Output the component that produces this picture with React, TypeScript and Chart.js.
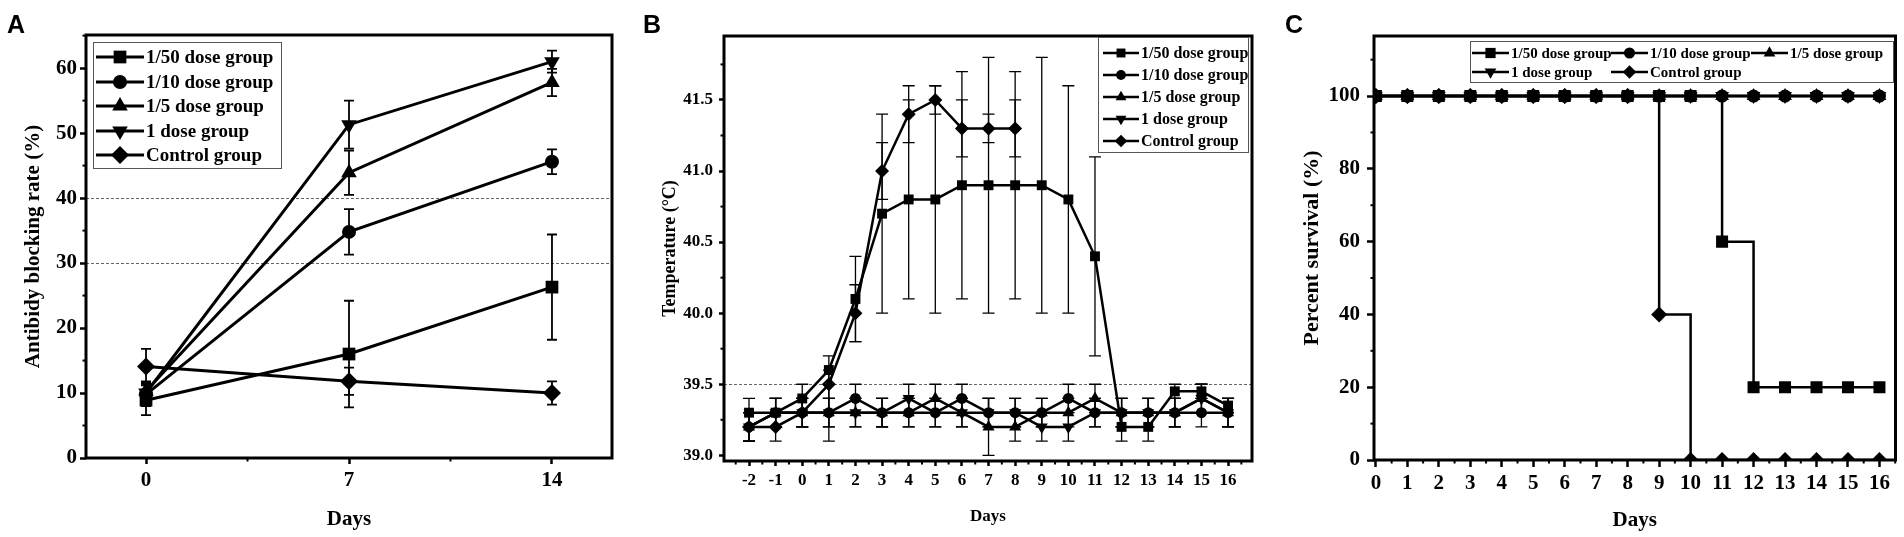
import { useEffect, useRef } from 'react'
import { Chart, registerables } from 'chart.js'

Chart.register(...registerables)

const SERIF = '"Liberation Serif", "Times New Roman", serif'
const SANS = '"Liberation Sans", Arial, sans-serif'

const groupLabels = ['1/50 dose group', '1/10 dose group', '1/5 dose group', '1 dose group', 'Control group']
const groupMarkers = ['rect', 'circle', 'triangle', 'triangleDown', 'rectRot']

// ---- panel A: antibody blocking rate
const daysA = [0, 7, 14]
const ticksAX = [0, 7, 14]
const ticksAY = [0, 10, 20, 30, 40, 50, 60]
const refLinesA = [30, 40]
const a150 = [8.9, 16.0, 26.3]
const a150Err = [2.3, 8.2, 8.1]
const a110 = [9.8, 34.8, 45.6]
const a110Err = [1.8, 3.5, 1.9]
const a15 = [10.3, 43.9, 57.8]
const a15Err = [1.5, 3.4, 2.1]
const a1 = [10.0, 51.3, 61.0]
const a1Err = [1.5, 3.7, 1.7]
const aCtrl = [14.1, 11.8, 10.0]
const aCtrlErr = [2.7, 2.1, 1.8]

// ---- panel B: temperature
const daysB = [-2, -1, 0, 1, 2, 3, 4, 5, 6, 7, 8, 9, 10, 11, 12, 13, 14, 15, 16]
const ticksBX = [-2, -1, 0, 1, 2, 3, 4, 5, 6, 7, 8, 9, 10, 11, 12, 13, 14, 15, 16]
const ticksBY = [39.0, 39.5, 40.0, 40.5, 41.0, 41.5]
const refLinesB = [39.5]
const b150 = [39.3, 39.3, 39.4, 39.6, 40.1, 40.7, 40.8, 40.8, 40.9, 40.9, 40.9, 40.9, 40.8, 40.4, 39.2, 39.2, 39.45, 39.45, 39.35]
const b150Err = [0.1, 0.1, 0.1, 0.1, 0.3, 0.7, 0.7, 0.8, 0.8, 0.9, 0.8, 0.9, 0.8, 0.7, 0.1, 0.1, 0.05, 0.05, 0.05]
const b110 = [39.2, 39.3, 39.3, 39.3, 39.4, 39.3, 39.3, 39.3, 39.4, 39.3, 39.3, 39.3, 39.4, 39.3, 39.3, 39.3, 39.3, 39.3, 39.3]
const b110Err = [0.1, 0.1, 0.1, 0.2, 0.1, 0.1, 0.1, 0.1, 0.1, 0.1, 0.1, 0.1, 0.1, 0.1, 0.1, 0.1, 0.1, 0.1, 0.1]
const b15 = [39.2, 39.3, 39.3, 39.3, 39.3, 39.3, 39.3, 39.4, 39.3, 39.2, 39.2, 39.3, 39.3, 39.4, 39.3, 39.3, 39.3, 39.4, 39.3]
const b15Err = [0.1, 0.1, 0.1, 0.1, 0.1, 0.1, 0.1, 0.1, 0.1, 0.2, 0.1, 0.1, 0.1, 0.1, 0.1, 0.1, 0.1, 0.1, 0.1]
const b1 = [39.2, 39.3, 39.3, 39.3, 39.3, 39.3, 39.4, 39.3, 39.3, 39.3, 39.3, 39.2, 39.2, 39.3, 39.3, 39.3, 39.3, 39.4, 39.3]
const b1Err = [0.1, 0.1, 0.1, 0.1, 0.1, 0.1, 0.1, 0.1, 0.1, 0.1, 0.1, 0.1, 0.1, 0.1, 0.1, 0.1, 0.1, 0.1, 0.1]
const bCtrl = [39.2, 39.2, 39.3, 39.5, 40.0, 41.0, 41.4, 41.5, 41.3, 41.3, 41.3, null, null, null, null, null, null, null, null]
const bCtrlErr = [0.1, 0.1, 0.1, 0.1, 0.2, 0.2, 0.2, 0.1, 0.2, 0.1, 0.2, 0, 0, 0, 0, 0, 0, 0, 0]

// ---- panel C: survival
const daysC = [0, 1, 2, 3, 4, 5, 6, 7, 8, 9, 10, 11, 12, 13, 14, 15, 16]
const ticksCX = [0, 1, 2, 3, 4, 5, 6, 7, 8, 9, 10, 11, 12, 13, 14, 15, 16]
const ticksCY = [0, 20, 40, 60, 80, 100]
const c150 = [100, 100, 100, 100, 100, 100, 100, 100, 100, 100, 100, 60, 20, 20, 20, 20, 20]
const c110 = [100, 100, 100, 100, 100, 100, 100, 100, 100, 100, 100, 100, 100, 100, 100, 100, 100]
const c15 = [100, 100, 100, 100, 100, 100, 100, 100, 100, 100, 100, 100, 100, 100, 100, 100, 100]
const c1 = [100, 100, 100, 100, 100, 100, 100, 100, 100, 100, 100, 100, 100, 100, 100, 100, 100]
const cCtrl = [100, 100, 100, 100, 100, 100, 100, 100, 100, 40, 0, 0, 0, 0, 0, 0, 0]

function drawMarker(ctx, style, x, y, r) {
  ctx.beginPath()
  if (style === 'rect') {
    const s = r * Math.SQRT1_2
    ctx.rect(x - s, y - s, 2 * s, 2 * s)
  } else if (style === 'circle') {
    ctx.arc(x, y, r, 0, Math.PI * 2)
  } else if (style === 'triangle' || style === 'triangleDown') {
    const d = style === 'triangle' ? 1 : -1
    ctx.moveTo(x, y - d * r)
    ctx.lineTo(x + r * 0.866, y + d * r * 0.5)
    ctx.lineTo(x - r * 0.866, y + d * r * 0.5)
    ctx.closePath()
  } else {
    ctx.moveTo(x, y - r)
    ctx.lineTo(x + r, y)
    ctx.lineTo(x, y + r)
    ctx.lineTo(x - r, y)
    ctx.closePath()
  }
  ctx.fill()
}

// frame, minor ticks, reference lines, error bars and the boxed legend
function makeDecor(cfg) {
  return {
    id: 'decor',
    beforeDatasetsDraw(chart) {
      const { ctx, chartArea: ca, scales } = chart
      const x = scales.x
      const y = scales.y
      ctx.save()
      ctx.strokeStyle = '#666'
      ctx.lineWidth = 1
      ctx.setLineDash([3, 2])
      for (const v of cfg.refLines || []) {
        const py = Math.round(y.getPixelForValue(v)) + 0.5
        ctx.beginPath()
        ctx.moveTo(ca.left, py)
        ctx.lineTo(ca.right, py)
        ctx.stroke()
      }
      ctx.setLineDash([])
      ctx.strokeStyle = '#000'
      ctx.lineWidth = cfg.errWidth
      chart.data.datasets.forEach((ds) => {
        if (!ds.errorBars) return
        ds.data.forEach((pt, j) => {
          const e = ds.errorBars[j]
          if (pt.y == null || !e) return
          const px = x.getPixelForValue(pt.x)
          const t = y.getPixelForValue(pt.y + e)
          const b = y.getPixelForValue(pt.y - e)
          ctx.beginPath()
          ctx.moveTo(px, t)
          ctx.lineTo(px, b)
          ctx.moveTo(px - cfg.cap, t)
          ctx.lineTo(px + cfg.cap, t)
          ctx.moveTo(px - cfg.cap, b)
          ctx.lineTo(px + cfg.cap, b)
          ctx.stroke()
        })
      })
      ctx.restore()
    },
    afterDraw(chart) {
      const { ctx, chartArea: ca, scales } = chart
      const x = scales.x
      const y = scales.y
      ctx.save()
      ctx.strokeStyle = '#000'
      // minor ticks
      ctx.lineWidth = 2
      for (let v = cfg.minorX.start; v <= x.max; v += cfg.minorX.step) {
        const px = x.getPixelForValue(v)
        ctx.beginPath()
        ctx.moveTo(px, ca.bottom)
        ctx.lineTo(px, ca.bottom + 3.5)
        ctx.stroke()
      }
      for (let v = cfg.minorY.start; v <= y.max; v += cfg.minorY.step) {
        const py = y.getPixelForValue(v)
        ctx.beginPath()
        ctx.moveTo(ca.left, py)
        ctx.lineTo(ca.left - 3.5, py)
        ctx.stroke()
      }
      // frame
      ctx.lineWidth = cfg.frame
      ctx.strokeRect(ca.left, ca.top, ca.right - ca.left, ca.bottom - ca.top)
      // legend
      const lg = cfg.legend
      ctx.lineWidth = 1
      ctx.strokeStyle = '#555'
      ctx.fillStyle = '#fff'
      ctx.fillRect(lg.left, lg.top, lg.right - lg.left, lg.bottom - lg.top)
      ctx.strokeRect(lg.left + 0.5, lg.top + 0.5, lg.right - lg.left, lg.bottom - lg.top)
      ctx.font = `bold ${lg.size}px ${SERIF}`
      ctx.textBaseline = 'middle'
      ctx.textAlign = 'left'
      chart.data.datasets.forEach((ds, i) => {
        const row = Math.floor(i / lg.cols)
        const col = i % lg.cols
        const ty = lg.rows[row]
        const tx = lg.colX[col]
        ctx.strokeStyle = '#000'
        ctx.fillStyle = '#000'
        ctx.lineWidth = lg.lineWidth
        ctx.beginPath()
        ctx.moveTo(tx - lg.lineLen - 2, ty)
        ctx.lineTo(tx - 2, ty)
        ctx.stroke()
        drawMarker(ctx, ds.marker, tx - 2 - lg.lineLen / 2, ty, ds.pointRadius * lg.markerScale)
        ctx.fillText(ds.label, tx, ty + 1)
      })
      ctx.restore()
    },
  }
}

function buildDatasets(xs, seriesList, errList, radii, lineWidth, stepped) {
  return seriesList.map((vals, i) => ({
    label: groupLabels[i],
    marker: groupMarkers[i],
    data: xs.map((x, j) => ({ x, y: vals[j] })),
    errorBars: errList ? errList[i] : null,
    borderColor: '#000',
    backgroundColor: '#000',
    borderWidth: lineWidth,
    pointStyle: groupMarkers[i] === 'triangleDown' ? 'triangle' : groupMarkers[i],
    rotation: groupMarkers[i] === 'triangleDown' ? 180 : 0,
    pointRadius: radii[i],
    pointBackgroundColor: '#000',
    pointBorderColor: '#000',
    pointBorderWidth: 0,
    stepped: stepped || false,
    spanGaps: false,
  }))
}

function makeScales(p) {
  const tickFont = { family: SERIF, size: p.tickSize, weight: 'bold' }
  const titleFont = { family: SERIF, size: p.titleSize, weight: 'bold' }
  return {
    x: {
      type: 'linear',
      min: p.xMin,
      max: p.xMax,
      afterBuildTicks: (s) => { s.ticks = p.xTicks.map((v) => ({ value: v })) },
      afterFit: (s) => { s.height = p.xHeight },
      grid: { drawOnChartArea: false, drawTicks: true, tickLength: p.tickLen, tickWidth: 2.5, tickColor: '#000' },
      border: { display: false },
      ticks: { color: '#000', font: tickFont, padding: p.xPad, maxRotation: 0, autoSkip: false, callback: (v) => String(v) },
      title: { display: true, text: 'Days', color: '#000', font: { ...titleFont, size: p.daysSize }, padding: { top: 0, bottom: p.daysPad } },
    },
    y: {
      type: 'linear',
      min: p.yMin,
      max: p.yMax,
      afterBuildTicks: (s) => { s.ticks = p.yTicks.map((v) => ({ value: v })) },
      afterFit: (s) => { s.width = p.yWidth },
      grid: { drawOnChartArea: false, drawTicks: true, tickLength: p.tickLen, tickWidth: 2.5, tickColor: '#000' },
      border: { display: false },
      ticks: { color: '#000', font: tickFont, padding: p.yPad, callback: p.yFmt || ((v) => String(v)) },
      title: { display: true, text: p.yTitle, color: '#000', font: titleFont, padding: { top: p.yTitlePad, bottom: 0 } },
    },
  }
}

function Panel({ left, width, build }) {
  const ref = useRef(null)
  useEffect(() => {
    const chart = new Chart(ref.current.getContext('2d'), build())
    return () => chart.destroy()
  }, [])
  return (
    <div style={{ position: 'absolute', left, top: 0, width, height: 537 }}>
      <canvas ref={ref} width={width} height={537} style={{ width, height: 537 }} />
    </div>
  )
}

const baseOptions = {
  responsive: false,
  animation: false,
  events: [],
}

function buildA() {
  return {
    type: 'line',
    data: {
      datasets: buildDatasets(daysA, [a150, a110, a15, a1, aCtrl], [a150Err, a110Err, a15Err, a1Err, aCtrlErr], [9, 7, 9, 9, 9], 3),
    },
    options: {
      ...baseOptions,
      layout: { padding: { left: 0, top: 35, right: 28, bottom: 0 } },
      plugins: { legend: { display: false }, tooltip: { enabled: false } },
      scales: makeScales({
        xMin: -2.07, xMax: 16.07, xTicks: ticksAX, xHeight: 79, xPad: 4,
        yMin: 0, yMax: 65.1, yTicks: ticksAY, yWidth: 86, yPad: 3,
        tickLen: 6, tickSize: 21, titleSize: 21, daysSize: 21, daysPad: 5,
        yTitle: 'Antibidy blocking rate (%)', yTitlePad: 21,
      }),
    },
    plugins: [makeDecor({
      refLines: refLinesA, errWidth: 1.8, cap: 5, frame: 3,
      minorX: { start: 3.5, step: 7 }, minorY: { start: 5, step: 10 },
      legend: { left: 93, top: 42, right: 281, bottom: 168, cols: 1, rows: [57, 82, 106, 131, 155], colX: [146], lineLen: 48, lineWidth: 3, size: 19, markerScale: 1 },
    })],
  }
}

function buildB() {
  return {
    type: 'line',
    data: {
      datasets: buildDatasets(daysB, [b150, b110, b15, b1, bCtrl], [b150Err, b110Err, b15Err, b1Err, bCtrlErr], [7, 5.5, 7, 7, 7], 2.5),
    },
    options: {
      ...baseOptions,
      layout: { padding: { left: 0, top: 36, right: 18, bottom: 0 } },
      plugins: { legend: { display: false }, tooltip: { enabled: false } },
      scales: makeScales({
        xMin: -2.94, xMax: 16.9, xTicks: ticksBX, xHeight: 76, xPad: 4,
        yMin: 38.96, yMax: 41.95, yTicks: ticksBY, yWidth: 84, yPad: 6,
        tickLen: 5, tickSize: 17, titleSize: 18, daysSize: 17, daysPad: 10,
        yTitle: 'Temperature (°C)', yTitlePad: 20, yFmt: (v) => Number(v).toFixed(1),
      }),
    },
    plugins: [makeDecor({
      refLines: refLinesB, errWidth: 1.3, cap: 6, frame: 3,
      minorX: { start: -2.5, step: 1 }, minorY: { start: 39.25, step: 0.5 },
      legend: { left: 458, top: 37, right: 608, bottom: 152, cols: 1, rows: [53, 75, 97, 119, 141], colX: [501], lineLen: 36, lineWidth: 2.5, size: 16, markerScale: 0.9 },
    })],
  }
}

function buildC() {
  return {
    type: 'line',
    data: {
      datasets: buildDatasets(daysC, [c150, c110, c15, c1, cCtrl], null, [8.5, 6.5, 8, 8, 8], 2.5, 'before'),
    },
    options: {
      ...baseOptions,
      layout: { padding: { left: 0, top: 36, right: 8, bottom: 0 } },
      plugins: { legend: { display: false }, tooltip: { enabled: false } },
      scales: makeScales({
        xMin: -0.06, xMax: 16.51, xTicks: ticksCX, xHeight: 77, xPad: 4,
        yMin: 0, yMax: 116.5, yTicks: ticksCY, yWidth: 104, yPad: 7,
        tickLen: 7, tickSize: 21, titleSize: 22, daysSize: 21, daysPad: 4,
        yTitle: 'Percent survival (%)', yTitlePad: 29,
      }),
    },
    plugins: [makeDecor({
      refLines: [], errWidth: 1.5, cap: 5, frame: 3,
      minorX: { start: 0.5, step: 1 }, minorY: { start: 10, step: 20 },
      legend: { left: 200, top: 41, right: 623, bottom: 82, cols: 3, rows: [53, 72], colX: [241, 380, 520], lineLen: 37, lineWidth: 2.5, size: 15, markerScale: 0.85 },
    })],
  }
}

const letterStyle = {
  position: 'absolute' as const,
  top: 12,
  fontFamily: SANS,
  fontWeight: 'bold' as const,
  fontSize: 25,
  lineHeight: '25px',
  color: '#000',
}

export default function App() {
  return (
    <div style={{ position: 'absolute', left: 0, top: 0, width: 1904, height: 537, background: '#fff', overflow: 'hidden' }}>
      <Panel left={0} width={640} build={buildA} />
      <Panel left={640} width={630} build={buildB} />
      <Panel left={1270} width={634} build={buildC} />
      <div style={{ ...letterStyle, left: 7 }}>A</div>
      <div style={{ ...letterStyle, left: 643 }}>B</div>
      <div style={{ ...letterStyle, left: 1285 }}>C</div>
    </div>
  )
}
